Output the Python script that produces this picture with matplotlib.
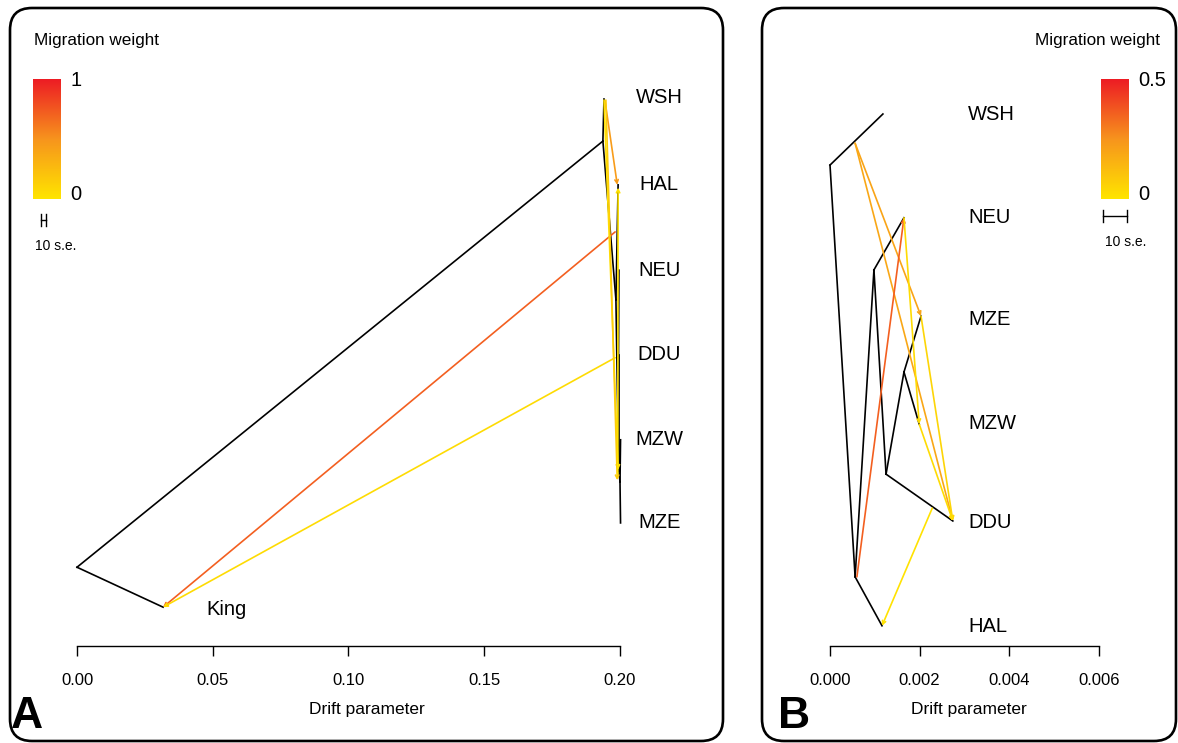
import numpy as np
import matplotlib
matplotlib.use('Agg')
import matplotlib.pyplot as plt
from matplotlib.colors import LinearSegmentedColormap
from matplotlib.patches import FancyBboxPatch

plt.rcParams['font.family'] = ['Liberation Sans', 'DejaVu Sans']

W, H = 1178, 743

# ---------------- panel A : tree (drift, height) ----------------
a_names = ['root', 'King', 'n1', 'WSH', 'n2', 'HAL', 'n3', 'NEU', 'n4', 'DDU', 'n5', 'MZW', 'MZE']
a_x = [0.0000, 0.0317, 0.1937, 0.1941, 0.1985, 0.1993, 0.1993, 0.1996, 0.1996, 0.1996, 0.2000, 0.2002, 0.2002]
a_y = [0.144, 0.071, 0.923, 1.000, 0.633, 0.843, 0.380, 0.687, 0.320, 0.532, 0.300, 0.377, 0.225]
a_edges = [('root', 'King'), ('root', 'n1'), ('n1', 'WSH'), ('n1', 'n2'), ('n2', 'HAL'),
           ('n2', 'n3'), ('n3', 'NEU'), ('n3', 'n4'), ('n4', 'DDU'), ('n4', 'n5'),
           ('n5', 'MZW'), ('n5', 'MZE')]
# migration edges: source point, target point, weight (0..1)
a_mig_from = [(0.1945, 0.996), (0.1982, 0.757), (0.1982, 0.527), (0.1941, 0.998), (0.1948, 0.998), (0.1992, 0.315)]
a_mig_to = [(0.1990, 0.843), (0.0317, 0.071), (0.0317, 0.071), (0.1993, 0.322), (0.1990, 0.303), (0.1993, 0.838)]
a_mig_w = [0.45, 0.72, 0.06, 0.03, 0.15, 0.02]
a_leaves = ['WSH', 'HAL', 'NEU', 'DDU', 'MZW', 'MZE']
a_leaf_y = [1.002, 0.843, 0.687, 0.532, 0.377, 0.225]
a_ticks = [0.00, 0.05, 0.10, 0.15, 0.20]

# ---------------- panel B ----------------
b_names = ['root', 'WSH', 'w1', 'a', 'HAL', 'b', 'NEU', 'c', 'DDU', 'd', 'MZE', 'MZW']
b_x = [0.0, 0.00118, 0.00056, 0.00056, 0.00116, 0.00098, 0.00165, 0.00125, 0.00274, 0.00165, 0.00203, 0.00199]
b_y = [0.904, 1.000, 0.945, 0.130, 0.038, 0.707, 0.805, 0.323, 0.235, 0.515, 0.620, 0.417]
b_edges = [('root', 'WSH'), ('root', 'a'), ('a', 'HAL'), ('a', 'b'), ('b', 'NEU'), ('b', 'c'),
           ('c', 'DDU'), ('c', 'd'), ('d', 'MZE'), ('d', 'MZW')]
b_mig_from = [(0.00056, 0.945), (0.00056, 0.945), (0.00060, 0.130), (0.00165, 0.805),
              (0.00203, 0.620), (0.00199, 0.417), (0.00228, 0.259)]
b_mig_to = [(0.00203, 0.620), (0.00274, 0.235), (0.00165, 0.805), (0.00199, 0.417),
            (0.00274, 0.235), (0.00274, 0.235), (0.00116, 0.038)]
b_mig_w = [0.20, 0.19, 0.36, 0.03, 0.05, 0.03, 0.01]
b_leaves = ['WSH', 'NEU', 'MZE', 'MZW', 'DDU', 'HAL']
b_leaf_y = [1.000, 0.805, 0.613, 0.419, 0.233, 0.036]
b_ticks = [0.000, 0.002, 0.004, 0.006]

cmap = LinearSegmentedColormap.from_list('mig', ['#FFE500', '#F7941D', '#ED1C24'])

fig = plt.figure(figsize=(W / 100, H / 100), dpi=100)


def px_axes(l, t, r, b):
    return fig.add_axes([l / W, (H - b) / H, (r - l) / W, (b - t) / H])


def draw_panel(box, x0px, xscale, ybase, yscale, names, xs, ys, edges, mfrom, mto, mw, wmax,
               leaves, leaf_y, leaf_x, leaf_ha, ticks, fmt):
    l, t, r, b = box
    ax = px_axes(l, t, r, b)
    ax.set_xlim((l - x0px) * xscale, (r - x0px) * xscale)
    ax.set_ylim((ybase - b) / yscale, (ybase - t) / yscale)
    pos = dict(zip(names, zip(xs, ys)))
    for p, c in edges:
        ax.plot([pos[p][0], pos[c][0]], [pos[p][1], pos[c][1]], color='black', lw=1.2, zorder=2)
    for s, e, w in zip(mfrom, mto, mw):
        ax.annotate('', xy=e, xytext=s,
                    arrowprops=dict(arrowstyle='->', color=cmap(w / wmax), lw=1.2,
                                    shrinkA=0, shrinkB=0, mutation_scale=6), zorder=3)
    for name, yy in zip(leaves, leaf_y):
        ax.text(leaf_x, yy, name, ha=leaf_ha, va='center', fontsize=14.5)
    for k in ['top', 'left', 'right']:
        ax.spines[k].set_visible(False)
    ax.spines['bottom'].set_position(('data', 0))
    ax.spines['bottom'].set_bounds(ticks[0], ticks[-1])
    ax.spines['bottom'].set_linewidth(1.0)
    ax.set_xticks(ticks)
    ax.set_xticklabels([fmt % v for v in ticks])
    ax.tick_params(axis='x', direction='out', length=7.5, width=1.0, labelsize=12, pad=12)
    ax.set_yticks([])
    ax.set_xlabel('Drift parameter', fontsize=12.5, labelpad=10)
    ax.patch.set_visible(False)
    return ax


axA = draw_panel((10, 8, 723, 741), 77, 0.2 / 543, 646, 547, a_names, a_x, a_y, a_edges,
                 a_mig_from, a_mig_to, a_mig_w, 1.0, a_leaves, a_leaf_y, 0.2144, 'center',
                 a_ticks, '%.2f')
axA.text(0.0549, 0.066, 'King', ha='center', va='center', fontsize=14.5)

axB = draw_panel((762, 8, 1176, 741), 830, 0.006 / 269, 646, 532, b_names, b_x, b_y, b_edges,
                 b_mig_from, b_mig_to, b_mig_w, 0.5, b_leaves, b_leaf_y, 0.00308, 'left',
                 b_ticks, '%.3f')

# rounded panel frames
for (l, t, r, b) in [(10, 8, 723, 741), (762, 8, 1176, 741)]:
    fig.patches.append(FancyBboxPatch((l / 100, (H - b) / 100), (r - l) / 100, (b - t) / 100,
                                      boxstyle='round,pad=0,rounding_size=0.22',
                                      transform=fig.dpi_scale_trans, fill=False,
                                      edgecolor='black', lw=1.9))

# colour legends
grad = np.linspace(0, 1, 256).reshape(-1, 1)
for (l, top, lab_top, lab_x, ha_title, title_x) in [(33, 79, '1', 70, 'left', 34),
                                                       (1101, 79, '0.5', 1138, 'right', 1160)]:
    cax = px_axes(l, top, l + 28, top + 120)
    cax.imshow(grad, cmap=cmap, origin='lower', aspect='auto')
    cax.set_axis_off()
    fig.text(lab_x / W, 1 - (top + 2) / H, lab_top, fontsize=14.5, va='center')
    fig.text(lab_x / W, 1 - (top + 116) / H, '0', fontsize=14.5, va='center')
    fig.text(title_x / W, 1 - 40 / H, 'Migration weight', fontsize=12.3, ha=ha_title, va='center')

# 10 s.e. scale bars
for (xl, xr, yb, xt) in [(41, 46, 220, 35), (1103, 1127, 216, 1105)]:
    fig.add_artist(plt.Line2D([xl / W, xr / W], [1 - yb / H] * 2, color='black', lw=1.0))
    for xx in (xl, xr):
        fig.add_artist(plt.Line2D([xx / W] * 2, [1 - (yb - 6) / H, 1 - (yb + 6) / H], color='black', lw=1.0))
    fig.text(xt / W, 1 - (yb + 26) / H, '10 s.e.', fontsize=10, va='center')

fig.text(11 / W, 1 - 717 / H, 'A', fontsize=32, fontweight='bold', va='center')
fig.text(778 / W, 1 - 717 / H, 'B', fontsize=32, fontweight='bold', va='center')

fig.savefig('out.png', dpi=100)
